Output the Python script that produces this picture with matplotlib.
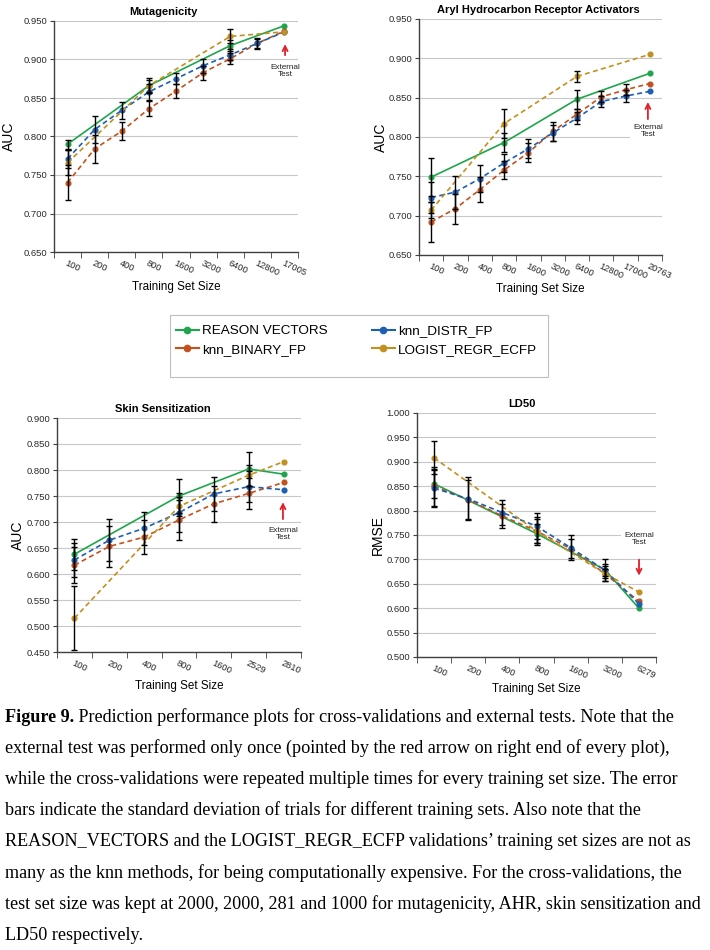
import matplotlib
matplotlib.use('Agg')
import matplotlib.pyplot as plt
from matplotlib.patches import Rectangle
from matplotlib.lines import Line2D
from matplotlib.ticker import FormatStrFormatter, MultipleLocator
import numpy as np

plt.rcParams['font.family'] = ['Liberation Sans', 'DejaVu Sans']

GREEN = '#1fa54b'
RED = '#c3511d'
BLUE = '#1d5fb2'
GOLD = '#c2901f'
ARROW = '#e0202a'

rv_name = 'REASON VECTORS'
bin_name = 'knn_BINARY_FP'
distr_name = 'knn_DISTR_FP'
lr_name = 'LOGIST_REGR_ECFP'

# ---- Mutagenicity (AUC) ----
mut_sizes = ['100', '200', '400', '800', '1600', '3200', '6400', '12800', '17005']
mut_rv_at = ['100', '800', '6400', '17005']
mut_rv = [0.790, 0.866, 0.918, 0.944]
mut_rv_sd = [0.006, 0.008, 0.007]
mut_lr_at = ['100', '800', '6400', '17005']
mut_lr = [0.766, 0.866, 0.930, 0.936]
mut_lr_sd = [0.016, 0.010, 0.009]
mut_distr = [0.771, 0.809, 0.834, 0.858, 0.875, 0.892, 0.906, 0.921, 0.936]
mut_distr_sd = [0.012, 0.017, 0.011, 0.010, 0.007, 0.009, 0.007, 0.007]
mut_bin = [0.740, 0.784, 0.807, 0.836, 0.859, 0.883, 0.901, 0.921, 0.937]
mut_bin_sd = [0.023, 0.018, 0.012, 0.010, 0.009, 0.009, 0.007, 0.006]

# ---- Aryl Hydrocarbon Receptor Activators (AUC) ----
ahr_sizes = ['100', '200', '400', '800', '1600', '3200', '6400', '12800', '17000', '20763']
ahr_rv_at = ['100', '800', '6400', '20763']
ahr_rv = [0.749, 0.793, 0.848, 0.881]
ahr_rv_sd = [0.024, 0.012, 0.012]
ahr_lr_at = ['100', '800', '6400', '20763']
ahr_lr = [0.707, 0.817, 0.877, 0.905]
ahr_lr_sd = [0.010, 0.018, 0.007]
ahr_distr = [0.723, 0.730, 0.747, 0.767, 0.785, 0.805, 0.824, 0.845, 0.852, 0.858]
ahr_distr_sd = [0.020, 0.021, 0.017, 0.012, 0.012, 0.010, 0.008, 0.007, 0.008]
ahr_bin = [0.692, 0.709, 0.733, 0.758, 0.780, 0.807, 0.829, 0.851, 0.860, 0.868]
ahr_bin_sd = [0.026, 0.019, 0.016, 0.012, 0.012, 0.012, 0.007, 0.007, 0.007]

# ---- Skin Sensitization (AUC) ----
skin_sizes = ['100', '200', '400', '800', '1600', '2529', '2810']
skin_rv_at = ['100', '800', '2529', '2810']
skin_rv = [0.638, 0.750, 0.802, 0.792]
skin_rv_sd = [0.030, 0.032, 0.032]
skin_lr_at = ['100', '800', '2529', '2810']
skin_lr = [0.515, 0.730, 0.790, 0.816]
skin_lr_sd = [0.062, 0.018, 0.020]
skin_distr = [0.627, 0.665, 0.688, 0.718, 0.754, 0.768, 0.762]
skin_distr_sd = [0.032, 0.040, 0.032, 0.037, 0.032, 0.030]
skin_bin = [0.617, 0.653, 0.671, 0.704, 0.735, 0.755, 0.776]
skin_bin_sd = [0.035, 0.040, 0.032, 0.038, 0.035, 0.030]

# ---- LD50 (RMSE) ----
ld_sizes = ['100', '200', '400', '800', '1600', '3200', '6279']
ld_rv_at = ['100', '800', '3200', '6279']
ld_rv = [0.855, 0.753, 0.679, 0.600]
ld_rv_sd = [0.030, 0.020, 0.012]
ld_lr_at = ['100', '800', '3200', '6279']
ld_lr = [0.908, 0.758, 0.671, 0.633]
ld_lr_sd = [0.034, 0.025, 0.010]
ld_distr = [0.846, 0.824, 0.796, 0.768, 0.724, 0.678, 0.609]
ld_distr_sd = [0.038, 0.044, 0.025, 0.027, 0.026, 0.022]
ld_bin = [0.850, 0.822, 0.789, 0.758, 0.722, 0.671, 0.614]
ld_bin_sd = [0.040, 0.040, 0.024, 0.028, 0.020, 0.015]

caption_bold = 'Figure 9.'
caption_lines = [
    ' Prediction performance plots for cross-validations and external tests. Note that the',
    'external test was performed only once (pointed by the red arrow on right end of every plot),',
    'while the cross-validations were repeated multiple times for every training set size. The error',
    'bars indicate the standard deviation of trials for different training sets. Also note that the',
    'REASON_VECTORS and the LOGIST_REGR_ECFP validations\u2019 training set sizes are not as',
    'many as the knn methods, for being computationally expensive. For the cross-validations, the',
    'test set size was kept at 2000, 2000, 281 and 1000 for mutagenicity, AHR, skin sensitization and',
    'LD50 respectively.',
]

W, H = 710, 950
fig = plt.figure(figsize=(W / 100, H / 100), dpi=100)


def px_axes(left, top, right, bottom):
    return fig.add_axes([left / W, 1 - bottom / H, (right - left) / W, (bottom - top) / H])


def panel(ax, sizes, rv_at, rv, rv_sd, lr_at, lr, lr_sd, distr, distr_sd, binv, bin_sd,
          title, title_x, ylabel, ylab_x, xlab_y, ylo, yhi):
    n = len(sizes)
    idx = lambda labs: [sizes.index(s) for s in labs]
    allx = list(range(n))
    series = [
        (idx(rv_at), rv, rv_sd, GREEN, '-'),
        (allx, binv, bin_sd, RED, (0, (3, 2))),
        (allx, distr, distr_sd, BLUE, (0, (3, 2))),
        (idx(lr_at), lr, lr_sd, GOLD, (0, (3, 2))),
    ]
    for xs, vs, sd, col, ls in series:
        ax.plot(xs, vs, color=col, ls=ls, lw=1.2, marker='o', ms=3.4, zorder=3)
        # last point is the external test: no error bar
        ax.errorbar(xs[:len(sd)], vs[:len(sd)], yerr=sd, fmt='none', ecolor='black',
                    elinewidth=1.0, capsize=2, capthick=1.0, zorder=4)
    ax.set_xlim(-0.5, n - 0.5)
    ax.set_ylim(ylo, yhi)
    ax.yaxis.set_major_locator(MultipleLocator(0.05))
    ax.yaxis.set_major_formatter(FormatStrFormatter('%.3f'))
    ax.grid(axis='y', color='#c8c8c8', lw=0.8)
    ax.set_axisbelow(True)
    ax.set_xticks(allx)
    ax.set_xticklabels(sizes, rotation=-25, ha='left', va='top', rotation_mode='anchor')
    ax.set_xticks(np.arange(-0.5, n), minor=True)
    ax.tick_params(axis='x', which='major', length=0, pad=4.5, labelsize=6.7, labelcolor='#2a2a2a')
    ax.tick_params(axis='x', which='minor', length=4, direction='out', color='#404040')
    ax.tick_params(axis='y', length=3, direction='out', labelsize=6.8, labelcolor='#2a2a2a',
                   color='#404040', pad=2)
    for s in ['top', 'right']:
        ax.spines[s].set_visible(False)
    for s in ['left', 'bottom']:
        ax.spines[s].set_color('#404040')
        ax.spines[s].set_linewidth(1.0)
    ax.set_title(title, fontsize=8, fontweight='bold', x=title_x, pad=4)
    ax.set_ylabel(ylabel, fontsize=10)
    ax.yaxis.set_label_coords(ylab_x, 0.5)
    ax.set_xlabel('Training Set Size', fontsize=8.4)
    ax.xaxis.set_label_coords(0.5, xlab_y)


def external(ax, x, text_top, tail, tip):
    ax.text(x, text_top, 'External\nTest', transform=ax.transAxes, ha='center', va='top',
            fontsize=5.9, linespacing=1.05, color='#222222', zorder=5,
            bbox=dict(facecolor='white', edgecolor='none', pad=2))
    ax.annotate('', xy=(x, tip), xytext=(x, tail), xycoords='axes fraction',
                arrowprops=dict(arrowstyle='->', color=ARROW, lw=1.3, mutation_scale=9))


ax1 = px_axes(54, 21, 298, 252)
panel(ax1, mut_sizes, mut_rv_at, mut_rv, mut_rv_sd, mut_lr_at, mut_lr, mut_lr_sd,
      mut_distr, mut_distr_sd, mut_bin, mut_bin_sd,
      'Mutagenicity', 0.447, 'AUC', -0.156, -0.127, 0.650, 0.950)
external(ax1, 0.947, 0.814, 0.84, 0.912)

ax2 = px_axes(419, 19, 662, 255)
panel(ax2, ahr_sizes, ahr_rv_at, ahr_rv, ahr_rv_sd, ahr_lr_at, ahr_lr, ahr_lr_sd,
      ahr_distr, ahr_distr_sd, ahr_bin, ahr_bin_sd,
      'Aryl Hydrocarbon Receptor Activators', 0.49, 'AUC', -0.128, -0.12, 0.650, 0.950)
external(ax2, 0.942, 0.555, 0.564, 0.66)

ax3 = px_axes(57, 418, 301, 652)
panel(ax3, skin_sizes, skin_rv_at, skin_rv, skin_rv_sd, skin_lr_at, skin_lr, skin_lr_sd,
      skin_distr, skin_distr_sd, skin_bin, skin_bin_sd,
      'Skin Sensitization', 0.434, 'AUC', -0.131, -0.12, 0.450, 0.900)
external(ax3, 0.926, 0.534, 0.556, 0.652)

ax4 = px_axes(417, 413, 656, 657)
panel(ax4, ld_sizes, ld_rv_at, ld_rv, ld_rv_sd, ld_lr_at, ld_lr, ld_lr_sd,
      ld_distr, ld_distr_sd, ld_bin, ld_bin_sd,
      'LD50', 0.44, 'RMSE', -0.134, -0.107, 0.500, 1.000)
external(ax4, 0.929, 0.512, 0.41, 0.322)

# shared legend box between the rows
fig.patches.append(Rectangle((170 / W, 1 - 377 / H), 378 / W, 62 / H, transform=fig.transFigure,
                             facecolor='white', edgecolor='#bfbfbf', lw=0.8))
handles = [Line2D([], [], color=c, lw=1.5, marker='o', ms=4.5) for c in [GREEN, RED, BLUE, GOLD]]
fig.legend(handles, [rv_name, bin_name, distr_name, lr_name], ncol=2, loc='upper left',
           bbox_to_anchor=(176 / W, 1 - 325 / H), frameon=False, fontsize=9.7, numpoints=1,
           handlelength=1.7, handletextpad=0.25, columnspacing=3.25, labelspacing=0.45,
           borderpad=0, borderaxespad=0)

# caption
cap_font = ['Liberation Serif', 'DejaVu Serif']
cap_size = 13.1
line_y = [717, 748, 779, 810, 842, 873, 904, 935]
b = fig.text(5 / W, 1 - line_y[0] / H, caption_bold, fontsize=cap_size, fontweight='bold',
             family=cap_font, va='center')
fig.canvas.draw()
bx = b.get_window_extent().x1 / W
for i, line in enumerate(caption_lines):
    fig.text(bx if i == 0 else 5 / W, 1 - line_y[i] / H, line, fontsize=cap_size,
             family=cap_font, va='center')

fig.savefig('out.png', dpi=100)
